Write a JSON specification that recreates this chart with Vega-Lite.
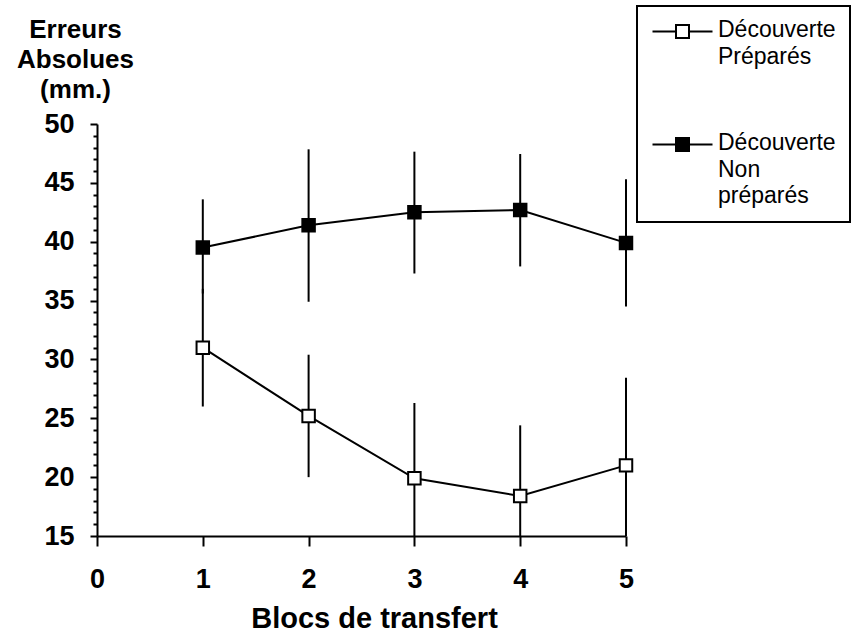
{
  "$schema": "https://vega.github.io/schema/vega-lite/v6.json",
  "width": 529,
  "height": 412,
  "autosize": {"type": "none"},
  "padding": {"left": 97, "top": 124, "right": 225, "bottom": 98},
  "background": "white",
  "config": {
    "view": {"stroke": null},
    "font": "Liberation Sans",
    "axis": {
      "grid": false,
      "domainColor": "black",
      "domainWidth": 2,
      "tickColor": "black",
      "tickWidth": 2,
      "labelColor": "black",
      "labelFont": "Liberation Sans",
      "labelFontWeight": "bold",
      "labelFontSize": 27,
      "labelFlush": false,
      "titleColor": "black",
      "titleFont": "Liberation Sans",
      "titleFontWeight": "bold"
    }
  },
  "data": {
    "values": [
      {"bloc": 1, "groupe": "Préparés", "moyenne": 31.0, "bas": 26.0, "haut": 36.0},
      {"bloc": 2, "groupe": "Préparés", "moyenne": 25.2, "bas": 20.0, "haut": 30.4},
      {"bloc": 3, "groupe": "Préparés", "moyenne": 19.9, "bas": 13.5, "haut": 26.3},
      {"bloc": 4, "groupe": "Préparés", "moyenne": 18.4, "bas": 12.4, "haut": 24.4},
      {"bloc": 5, "groupe": "Préparés", "moyenne": 21.0, "bas": 13.5, "haut": 28.45},
      {"bloc": 1, "groupe": "Non préparés", "moyenne": 39.5, "bas": 35.6, "haut": 43.6},
      {"bloc": 2, "groupe": "Non préparés", "moyenne": 41.4, "bas": 34.9, "haut": 47.85},
      {"bloc": 3, "groupe": "Non préparés", "moyenne": 42.5, "bas": 37.3, "haut": 47.65},
      {"bloc": 4, "groupe": "Non préparés", "moyenne": 42.7, "bas": 37.9, "haut": 47.45},
      {"bloc": 5, "groupe": "Non préparés", "moyenne": 39.9, "bas": 34.5, "haut": 45.3}
    ]
  },
  "encoding": {
    "x": {
      "field": "bloc",
      "type": "quantitative",
      "scale": {"domain": [0, 5], "nice": false, "zero": false},
      "axis": {
        "values": [0, 1, 2, 3, 4, 5],
        "tickSize": 10,
        "labelPadding": 20,
        "title": "Blocs de transfert",
        "titleFontSize": 29,
        "titleAlign": "center",
        "titleBaseline": "alphabetic",
        "titleX": 277,
        "titleY": 91
      }
    },
    "y": {
      "type": "quantitative",
      "scale": {"domain": [15, 50], "nice": false, "zero": false, "clamp": true},
      "axis": {
        "values": [15,16,17,18,19,20,21,22,23,24,25,26,27,28,29,30,31,32,33,34,35,36,37,38,39,40,41,42,43,44,45,46,47,48,49,50],
        "labelExpr": "datum.value % 5 === 0 ? datum.label : ''",
        "tickSize": {"condition": {"test": "datum.value % 5 === 0", "value": 7}, "value": 4},
        "labelPadding": 16,
        "title": ["Erreurs", "Absolues", "(mm.)"],
        "titleAngle": 0,
        "titleFontSize": 26,
        "titleLineHeight": 30,
        "titleAlign": "center",
        "titleBaseline": "alphabetic",
        "titleX": -22,
        "titleY": -87
      }
    }
  },
  "layer": [
    {
      "mark": {"type": "line", "color": "black", "strokeWidth": 2},
      "encoding": {
        "y": {"field": "moyenne", "type": "quantitative"},
        "detail": {"field": "groupe"}
      }
    },
    {
      "mark": {"type": "rule", "color": "black", "strokeWidth": 2},
      "encoding": {
        "y": {"field": "bas", "type": "quantitative"},
        "y2": {"field": "haut"}
      }
    },
    {
      "mark": {"type": "point", "shape": "square", "filled": true, "size": 156, "stroke": "black", "strokeWidth": 2, "opacity": 1},
      "encoding": {
        "y": {"field": "moyenne", "type": "quantitative"},
        "fill": {
          "field": "groupe",
          "type": "nominal",
          "scale": {"domain": ["Préparés", "Non préparés"], "range": ["white", "black"]},
          "legend": {
            "title": null,
            "orient": "none",
            "legendX": 540,
            "legendY": -118,
            "padding": 14,
            "strokeColor": "black",
            "symbolType": "M-1,0H1.35M2.65,0H5M1.35,-0.65H2.65V0.65H1.35Z",
            "symbolSize": 400,
            "symbolStrokeColor": "black",
            "symbolStrokeWidth": 2,
            "symbolOpacity": 1,
            "labelOffset": 44,
            "labelFont": "Liberation Sans",
            "labelFontSize": 23,
            "labelColor": "black",
            "labelBaseline": "top",
            "labelLimit": 300,
            "rowPadding": 63,
            "labelExpr": "datum.label === 'Préparés' ? ['Découverte', 'Préparés'] : ['Découverte', 'Non', 'préparés']",
            "encode": {
              "legend": {"update": {"strokeWidth": {"value": 2}}},
              "labels": {"update": {"lineHeight": {"value": 26.5}, "dy": {"value": -12.5}}}
            }
          }
        }
      }
    }
  ]
}
